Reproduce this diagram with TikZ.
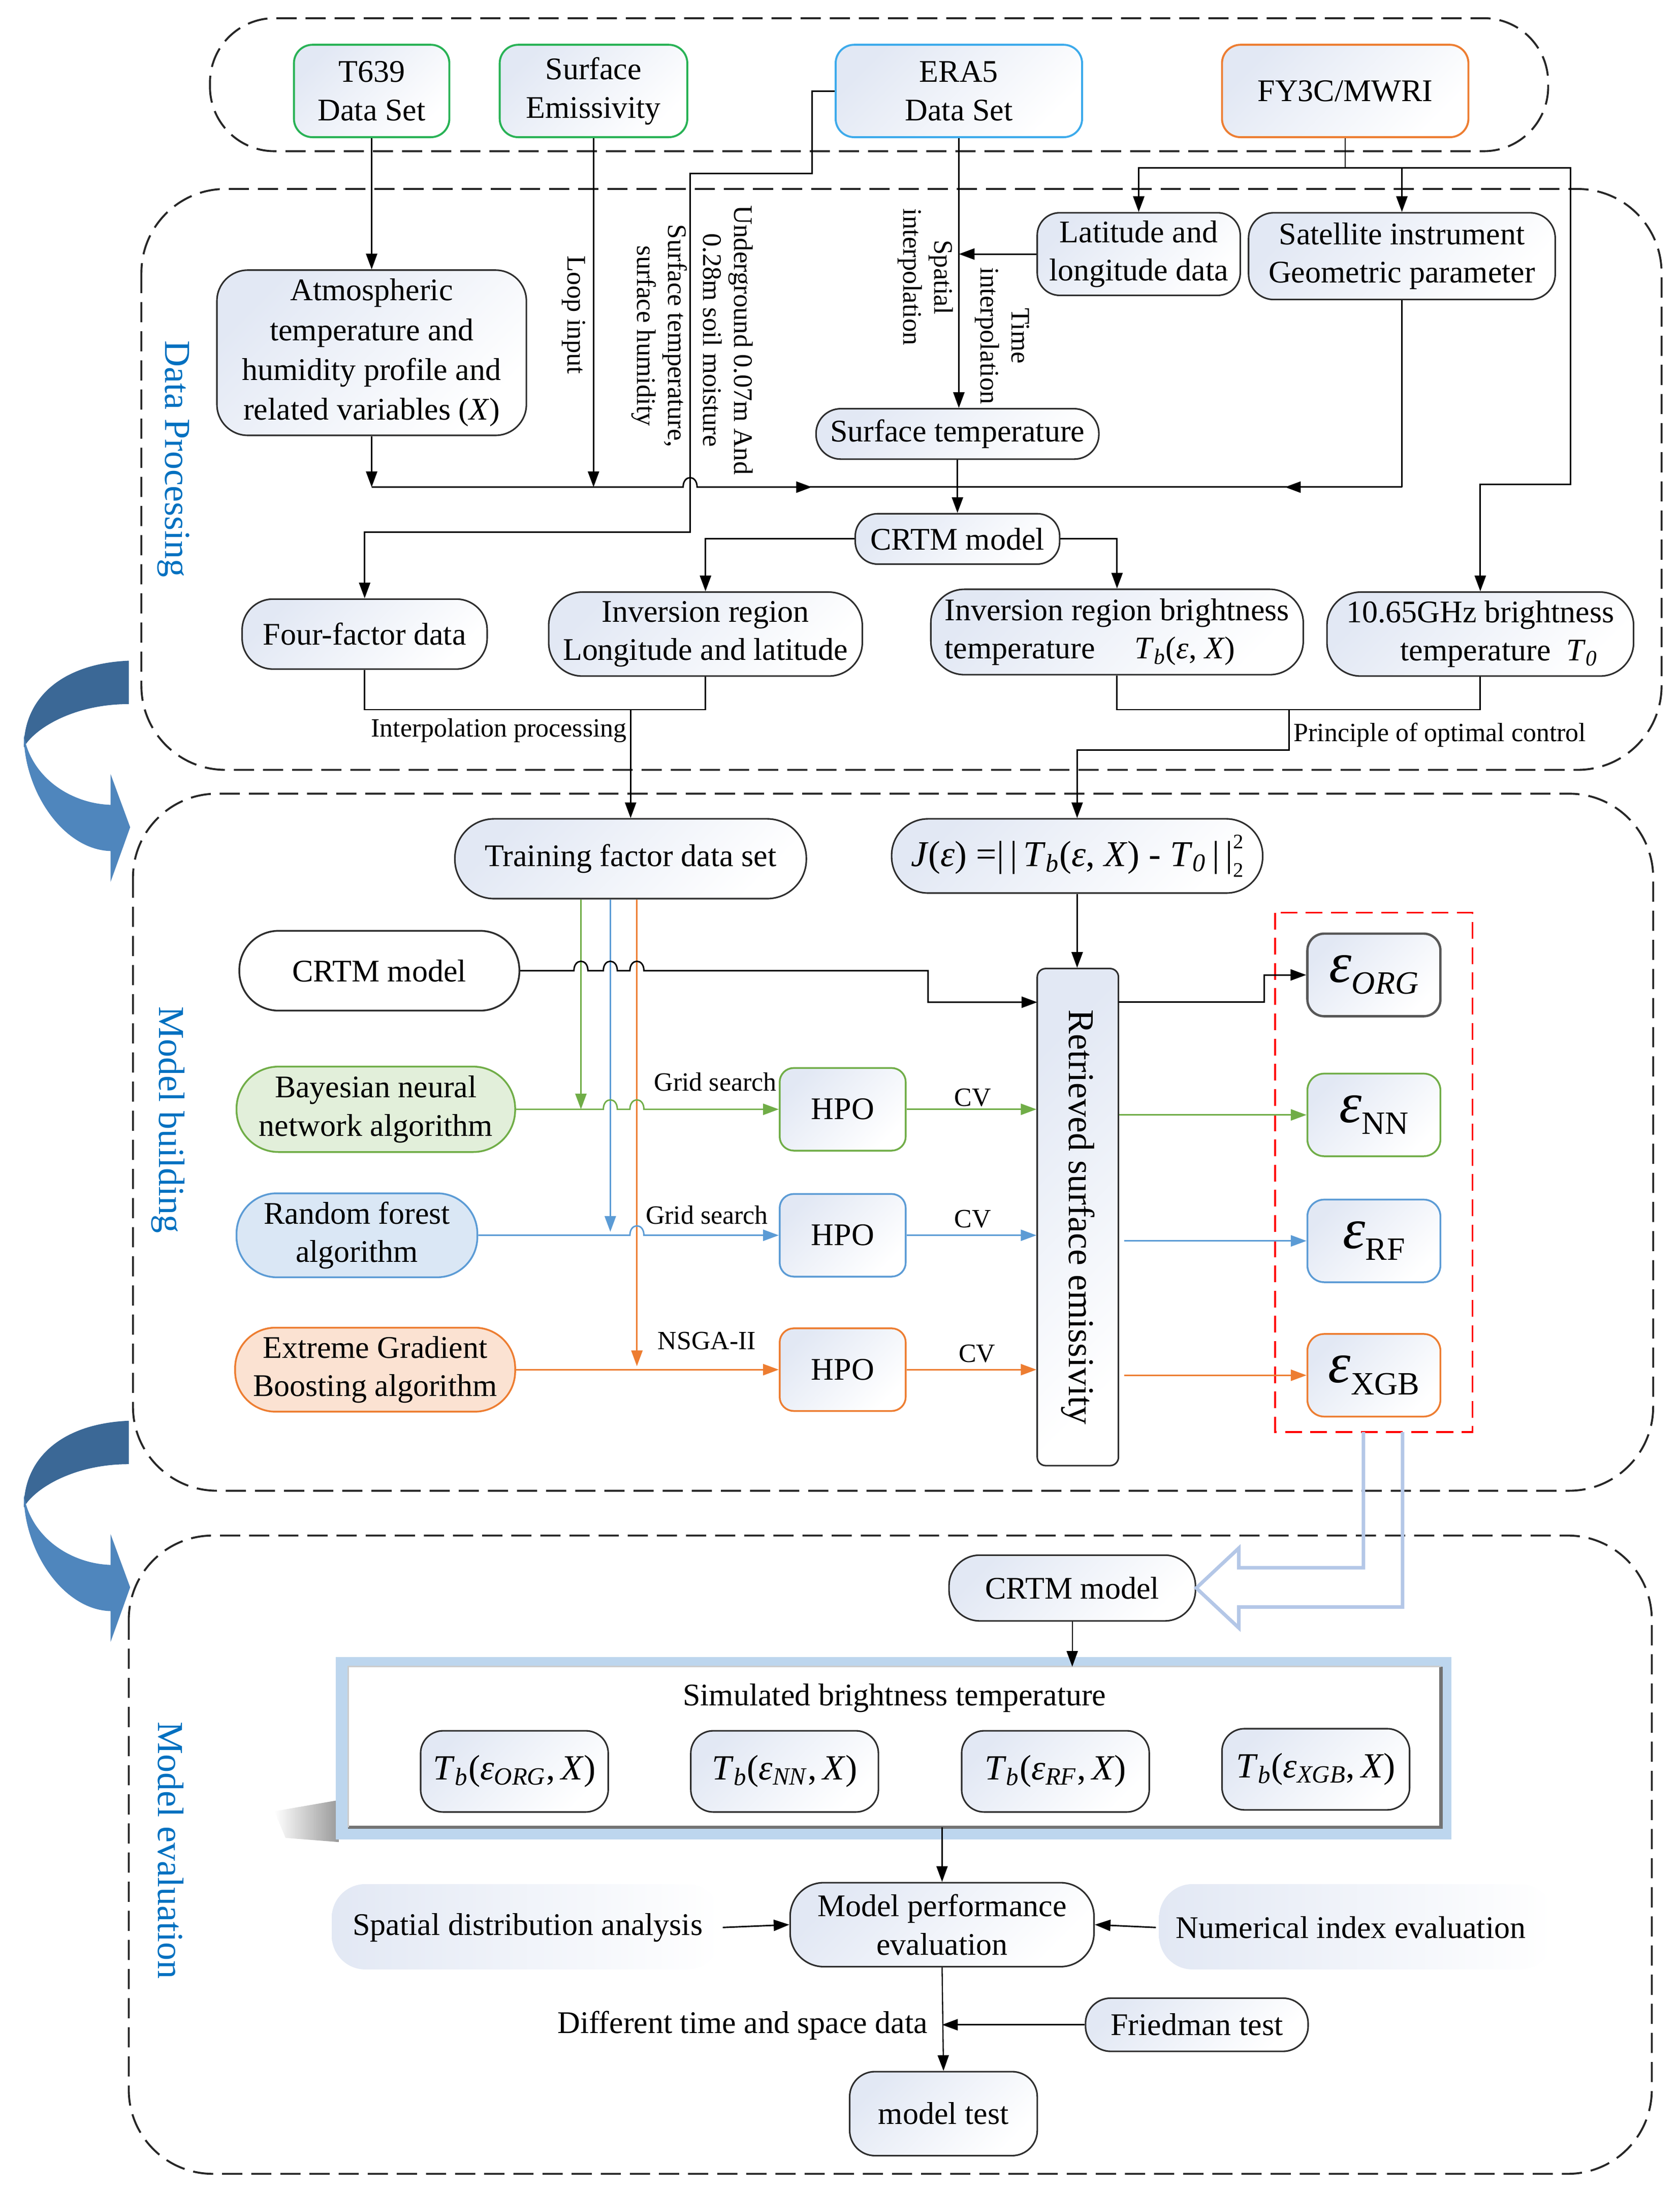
\documentclass[tikz,border=0pt]{standalone}
\usepackage{fontspec}
\setmainfont{Liberation Serif}
\usetikzlibrary{arrows.meta,shadings}
\definecolor{gradc}{RGB}{226,232,244}
\definecolor{bord}{RGB}{45,45,45}
\definecolor{tgreen}{RGB}{40,178,85}
\definecolor{tcyan}{RGB}{60,170,235}
\definecolor{torange}{RGB}{237,125,49}
\definecolor{cgreen}{RGB}{112,173,71}
\definecolor{cblue}{RGB}{91,155,213}
\definecolor{corange}{RGB}{237,125,49}
\definecolor{fgreen}{RGB}{226,239,218}
\definecolor{fblue}{RGB}{218,231,245}
\definecolor{forange}{RGB}{251,226,210}
\definecolor{labblue}{RGB}{0,112,192}
\definecolor{hollowc}{RGB}{180,199,231}
\definecolor{bigdark}{RGB}{59,104,150}
\definecolor{biglight}{RGB}{79,134,189}
\definecolor{panelc}{RGB}{189,214,238}
\newcommand\fmain{\fontsize{16}{19.5}\selectfont}
\newcommand\fatm{\fontsize{16}{20.2}\selectfont}
\newcommand\fsmall{\fontsize{13.4}{16}\selectfont}
\newcommand\frot{\fontsize{13.6}{15.8}\selectfont}
\newcommand\fsec{\fontsize{18.6}{22}\selectfont}
\newcommand\fret{\fontsize{18.5}{22}\selectfont}
\newcommand\fform{\fontsize{18.5}{22}\selectfont}
\newcommand\fidx{\fontsize{10.5}{11}\selectfont}
\newcommand\epsl[1]{{\fontsize{29}{30}\selectfont\textit{ε}}\raisebox{-6pt}{\fontsize{16.5}{18}\selectfont #1}}
\newcommand\tbx[1]{{\fontsize{18}{20}\selectfont\textit{T}\textsubscript{\textit{b}}(\textit{ε}\textsubscript{\textit{#1}},\,\textit{X})}}
\newcommand\hop[2]{-- (#1-5,#2) .. controls (#1-5,#2-9) and (#1+5,#2-9) .. (#1+5,#2)}
\begin{document}
\begin{tikzpicture}[x=0.025cm,y=-0.025cm,
  nb/.style={draw=bord, line width=0.8pt, top color=gradc, bottom color=white, shading angle=45, align=center, inner sep=0pt, font=\fmain, text=black},
  topb/.style={nb, line width=1pt, rounded corners=0.33cm, minimum height=1.65cm},
  region/.style={draw=black!85, line width=1pt, dash pattern=on 0.36cm off 0.16cm},
  arr/.style={line width=0.75pt, -{Triangle[length=0.28cm,width=0.2cm]}},
  ln/.style={line width=0.75pt},
  rlab/.style={rotate=-90, align=center, font=\frot, inner sep=0pt},
  slab/.style={font=\fsmall, inner sep=0pt},
  sec/.style={rotate=-90, font=\fsec, text=labblue, inner sep=0pt},
  alg/.style={draw, line width=0.9pt, align=center, inner sep=0pt, font=\fmain, rounded corners=0.72cm, minimum height=1.5cm},
  hpo/.style={nb, line width=0.9pt, rounded corners=0.25cm, minimum width=2.25cm, minimum height=1.475cm},
  epsb/.style={nb, line width=0.9pt, rounded corners=0.3cm, minimum width=2.375cm, minimum height=1.475cm},
  tbb/.style={nb, rounded corners=0.4cm, minimum width=3.35cm, minimum height=1.45cm}
]
\useasboundingbox (0,0) rectangle (1200,1566);

% ---------- regions ----------
\draw[region, rounded corners=1.15cm] (150,13) rectangle (1106,108);
\draw[region, rounded corners=1.5cm] (101,135) rectangle (1187,550);
\draw[region, rounded corners=1.5cm] (95,567) rectangle (1181,1065);
\draw[region, rounded corners=1.5cm] (92,1097) rectangle (1180,1553);

% ---------- big curved arrows ----------
\foreach \dy in {0,543}{
\begin{scope}[shift={(0,\dy)}]
\fill[bigdark] (92,472) .. controls (45,474) and (17,498) .. (17,534) .. controls (24,521) and (52,503) .. (92,503) -- cycle;
\fill[biglight] (17,525) .. controls (17,565) and (45,607) .. (79,608) -- (79,630) -- (93,591) -- (79,553) -- (79,575) .. controls (50,574) and (22,555) .. (17,525) -- cycle;
\end{scope}}

% ---------- section labels ----------
\node[sec] (secdp) at (124,328) {Data Processing};
\node[sec] (secmb) at (120,800) {Model building};
\node[sec] (secme) at (122,1322) {Model evaluation};

% ---------- top nodes ----------
\node[topb, draw=tgreen, minimum width=2.775cm] (t639) at (265.5,65) {T639\\Data Set};
\node[topb, draw=tgreen, minimum width=3.35cm] (semis) at (424,65) {Surface\\Emissivity};
\node[topb, draw=tcyan, minimum width=4.4cm] (era5) at (685,65) {ERA5\\Data Set};
\node[topb, draw=torange, minimum width=4.4cm] (fy3c) at (961,65) {FY3C/MWRI};

% ---------- data processing nodes ----------
\node[nb, font=\fatm, rounded corners=0.55cm, minimum width=5.525cm, minimum height=2.95cm] (atm) at (265.5,252) {Atmospheric\\temperature and\\humidity profile and\\related variables (\textit{X})};
\node[nb, rounded corners=0.4cm, minimum width=3.625cm, minimum height=1.475cm] (lat) at (813.5,181.5) {Latitude and\\longitude data};
\node[nb, rounded corners=0.45cm, minimum width=5.475cm, minimum height=1.55cm] (sat) at (1001.5,183) {Satellite instrument\\Geometric parameter};
\node[nb, rounded corners=0.44cm, minimum width=5.05cm, minimum height=0.9cm] (stemp) at (684,310) {Surface temperature};
\node[nb, rounded corners=0.4cm, minimum width=3.65cm, minimum height=0.9cm] (crtm1) at (684,385) {CRTM model};
\node[nb, rounded corners=0.55cm, minimum width=4.375cm, minimum height=1.25cm] (four) at (260.5,453) {Four-factor data};
\node[nb, rounded corners=0.6cm, minimum width=5.6cm, minimum height=1.5cm] (invll) at (504,453) {Inversion region\\Longitude and latitude};
\node[nb, rounded corners=0.6cm, minimum width=6.65cm, minimum height=1.525cm] (invbt) at (798,451.5) {\begin{tabular}{@{}l@{}}Inversion region brightness\\temperature\quad\ \textit{T}\textsubscript{\textit{b}}(\textit{ε}, \textit{X})\end{tabular}};
\node[nb, rounded corners=0.6cm, minimum width=5.475cm, minimum height=1.5cm] (ghz) at (1057.5,453) {10.65GHz brightness\\\hspace*{1.2em}temperature\ \ \textit{T}\textsubscript{\textit{0}}};

% rotated labels
\node[rlab] (lloop) at (410,225) {Loop input};
\node[rlab] (lsurf) at (471,240) {Surface temperature,\\surface humidity};
\node[rlab] (lund) at (520,243) {Underground 0.07m And\\0.28m soil moisture};
\node[rlab] (lspat) at (661,198) {Spatial\\interpolation};
\node[rlab] (ltime) at (716,240) {Time\\interpolation};

% junction coordinates
\coordinate (j1) at (265.5,348);
\coordinate (j2) at (424,348);
\coordinate (jc) at (684,348);
\coordinate (j3) at (1001.5,348);
\coordinate (fyj) at (961,120);

% connectors: top & data processing
\draw[arr] (t639.south) -- (atm.north);
\draw[arr] (semis.south) -- (j2);
\draw[arr] (atm.south) -- (j1);
\draw[arr] (j1) \hop{493}{348} -- (580,348);
\draw[ln] (576,348) -- (jc);
\draw[ln] (sat.south) -- (j3);
\draw[arr] (j3) -- (918,348);
\draw[ln] (922,348) -- (jc);
\draw[ln] (stemp.south) -- (jc);
\draw[arr] (jc) -- (crtm1.north);
\draw[arr] (era5.south) -- (era5.south |- stemp.north);
\draw[arr] (lat.west) -- (lat.west -| era5.south);
\draw[ln] (fy3c.south) -- (fyj);
\draw[arr] (fyj) -| (lat.north);
\draw[arr] (fyj) -| (sat.north);
\draw[arr] (fyj) -- (1122,120) -- (1122,346) -- (1057.5,346) -- (ghz.north);
\draw[arr] (era5.west) -- (580,65) -- (580,124) -- (493,124) -- (493,380) -- (260.5,380) -- (four.north);
\draw[arr] (crtm1.west) -| (invll.north);
\draw[arr] (crtm1.east) -| (invbt.north);

% ---------- model building nodes ----------
\node[nb, rounded corners=0.7cm, minimum width=6.275cm, minimum height=1.425cm] (train) at (450.5,613.5) {Training factor data set};
\node[nb, rounded corners=0.65cm, minimum width=6.625cm, minimum height=1.325cm, font=\fform] (jbox) at (769.5,611.5) {\textit{J}(\textit{ε}) =|\,|\,\textit{T}\textsubscript{\textit{b}}(\textit{ε}, \textit{X}) - \textit{T}\textsubscript{\textit{0}}\,|\,|\makebox[0pt][l]{\raisebox{9pt}{\fidx 2}}\raisebox{-5.5pt}{\fidx 2}};

% connectors from data processing to model building
\draw[ln] (four.south) -- (260.5,507) -- (504,507) -- (invll.south);
\draw[arr] (450.5,507) -- (train.north);
\node[slab, anchor=east] (lip) at (448,522) {Interpolation processing};
\draw[ln] (invbt.south) -- (798,507) -- (1057.5,507) -- (ghz.south);
\draw[arr] (921,507) -- (921,536) -- (769.5,536) -- (jbox.north);
\node[slab, anchor=west] (lpoc) at (924,525) {Principle of optimal control};

\node[alg, fill=white, draw=bord, minimum width=5.0cm, minimum height=1.425cm, rounded corners=0.7cm] (crtm2) at (271,693.5) {CRTM model};
\node[alg, fill=fgreen, draw=cgreen, minimum width=4.975cm, minimum height=1.525cm, rounded corners=0.75cm] (bnn) at (268.5,792.5) {Bayesian neural\\network algorithm};
\node[alg, fill=fblue, draw=cblue, minimum width=4.3cm] (rf) at (255,882.5) {Random forest\\algorithm};
\node[alg, fill=forange, draw=corange, minimum width=5.0cm] (xgb) at (268,978.5) {Extreme Gradient\\Boosting algorithm};

\node[hpo, draw=cgreen] (hpo1) at (602,792.5) {HPO};
\node[hpo, draw=cblue] (hpo2) at (602,882.5) {HPO};
\node[hpo, draw=corange] (hpo3) at (602,978.5) {HPO};

\node[nb, rounded corners=0.15cm, minimum width=1.45cm, minimum height=8.875cm] (ret) at (770,869.5) {};
\node[rotate=-90, font=\fret, inner sep=0pt] (rettxt) at (ret.center) {Retrieved surface emissivity};

\draw[red, line width=0.9pt, dash pattern=on 0.3cm off 0.15cm] (911,652) rectangle (1052,1023);
\node[epsb, draw=bord!80, line width=1.2pt] (eorg) at (981.5,696.5) {\epsl{\textit{ORG}}};
\node[epsb, draw=cgreen] (enn) at (981.5,796.5) {\epsl{NN}};
\node[epsb, draw=cblue] (erf) at (981.5,886.5) {\epsl{RF}};
\node[epsb, draw=corange] (exgb) at (981.5,982.5) {\epsl{XGB}};

% training factor vertical lines
\coordinate (vg) at (415,792.5);
\coordinate (vb) at (436,880);
\coordinate (vo) at (455,976);
\draw[arr, draw=cgreen] (train.south -| vg) -- (vg);
\draw[arr, draw=cblue] (train.south -| vb) -- (vb);
\draw[arr, draw=corange] (train.south -| vo) -- (vo);

% crtm model line with hops
\draw[arr] (crtm2.east) \hop{415}{693.5} \hop{436}{693.5} \hop{455}{693.5} -- (663,693.5) -- (663,716) -- (741,716);
\draw[arr, draw=cgreen] (bnn.east) \hop{436}{792.5} \hop{455}{792.5} -- (hpo1.west);
\draw[arr, draw=cblue] (rf.east) \hop{455}{882.5} -- (hpo2.west);
\draw[arr, draw=corange] (xgb.east) -- (hpo3.west);
\node[slab] (gs1) at (511,773) {Grid search};
\node[slab] (gs2) at (505,868) {Grid search};
\node[slab] (nsga) at (505,958) {NSGA-II};

\draw[arr, draw=cgreen] (hpo1.east) -- (hpo1.east -| ret.west);
\draw[arr, draw=cblue] (hpo2.east) -- (hpo2.east -| ret.west);
\draw[arr, draw=corange] (hpo3.east) -- (hpo3.east -| ret.west);
\node[slab] (cv1) at (695,784) {CV};
\node[slab] (cv2) at (695,871) {CV};
\node[slab] (cv3) at (698,967) {CV};

\draw[arr] (jbox.south) -- (jbox.south |- ret.north);
\draw[arr] (799,716) -- (903,716) -- (903,696.5) -- (eorg.west);
\draw[arr, draw=cgreen] (enn.west -| ret.east) -- (enn.west);
\draw[arr, draw=cblue] (803,886.5) -- (erf.west);
\draw[arr, draw=corange] (803,982.5) -- (exgb.west);

% ---------- model evaluation ----------
\node[nb, rounded corners=0.55cm, minimum width=4.4cm, minimum height=1.175cm] (crtm3) at (766,1134.5) {CRTM model};
\draw[hollowc, line width=1.8pt, line join=miter] (974,1023) -- (974,1120) -- (885,1120) -- (885,1106) -- (crtm3.east) -- (885,1163) -- (885,1148) -- (1002,1148) -- (1002,1023);

% simulated panel
\shade[left color=white, right color=black!40] (196,1294) -- (242,1286) -- (242,1316) -- (204,1313) -- cycle;
\fill[panelc] (240,1184) rectangle (1037,1314);
\node[fill=white, inner sep=0pt, minimum width=19.5cm, minimum height=2.85cm] (sim) at (639,1248) {};
\draw[black!55, line width=1.6pt] (sim.north east) -- (sim.south east) -- (sim.south west);
\draw[black!20, line width=0.8pt] (sim.south west) -- (sim.north west) -- (sim.north east);
\node[font=\fmain, inner sep=0pt] (simt) at (639,1213) {Simulated brightness temperature};
\node[tbb] (tb1) at (367.5,1265.5) {\tbx{ORG}};
\node[tbb] (tb2) at (560.5,1265.5) {\tbx{NN}};
\node[tbb] (tb3) at (754,1265.5) {\tbx{RF}};
\node[tbb] (tb4) at (940,1264) {\tbx{XGB}};
\draw[arr, line width=0.6pt] (crtm3.south) -- (crtm3.south |- sim.north);

\shade[left color=gradc, right color=white, rounded corners=0.6cm] (237,1346) rectangle (515,1407);
\shade[left color=gradc, right color=white, rounded corners=0.6cm] (828,1346) rectangle (1110,1407);
\node[nb, rounded corners=0.6cm, minimum width=5.425cm, minimum height=1.5cm] (mpe) at (673,1375) {Model performance\\evaluation};
\node[font=\fmain, inner sep=0pt] (spat) at (377,1377) {Spatial distribution analysis};
\node[font=\fmain, inner sep=0pt] (numer) at (965,1377) {Numerical index evaluation};
\node[nb, rounded corners=0.45cm, minimum width=3.975cm, minimum height=0.95cm] (fried) at (855,1446.5) {Friedman test};
\node[nb, rounded corners=0.45cm, minimum width=3.35cm, minimum height=1.5cm] (mtest) at (674,1510) {model test};
\node[font=\fmain, inner sep=0pt, anchor=east] (ldiff) at (663,1447) {Different time and space data};

\draw[arr, line width=0.6pt] (mpe.north |- sim.south) -- (mpe.north);
\draw[arr] ([xshift=0.35cm]spat.east) -- (mpe.west);
\draw[arr] ([xshift=-0.35cm]numer.west) -- (mpe.east);
\draw[arr, line width=0.6pt] (mpe.south) -- (mtest.north);
\draw[arr] (fried.west) -- (fried.west -| mpe.south);
\end{tikzpicture}
\end{document}
